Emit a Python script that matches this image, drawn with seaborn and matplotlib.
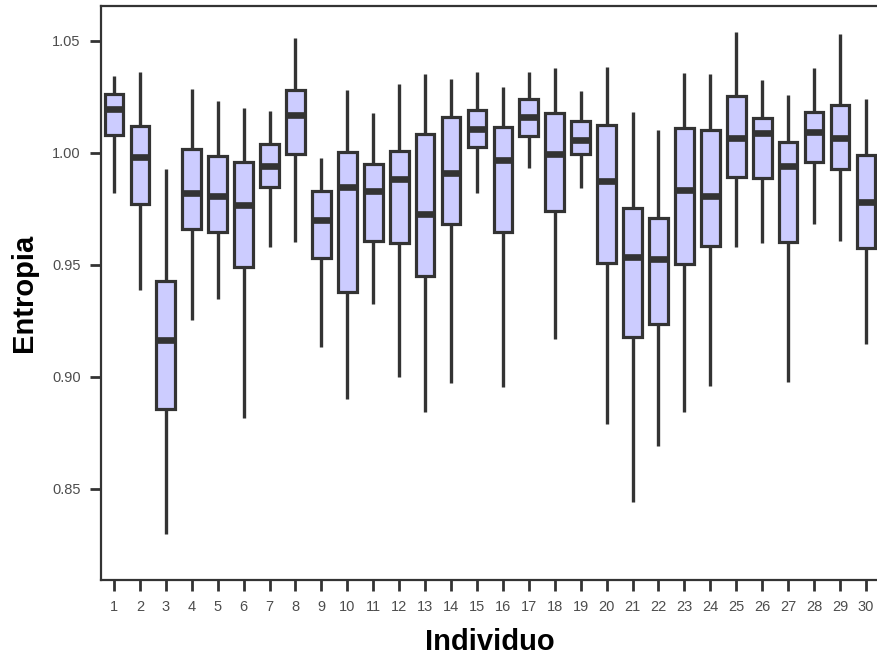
import numpy as np
import pandas as pd
import matplotlib
matplotlib.use("Agg")
import matplotlib.pyplot as plt
import seaborn as sns

individuos = [str(i) for i in range(1, 31)]
whisker_low = [0.9821, 0.9387, 0.8298, 0.9253, 0.9347, 0.8814, 0.9580, 0.9600, 0.9131, 0.8899,
               0.9325, 0.8996, 0.8842, 0.8973, 0.9821, 0.8953, 0.9930, 0.9167, 0.9841, 0.8789,
               0.8442, 0.8691, 0.8841, 0.8958, 0.9580, 0.9596, 0.8975, 0.9682, 0.9606, 0.9146]
q1 = [1.0079, 0.9771, 0.8854, 0.9661, 0.9645, 0.9487, 0.9848, 0.9994, 0.9531, 0.9377,
      0.9606, 0.9596, 0.9451, 0.9682, 1.0027, 0.9647, 1.0076, 0.9741, 0.9994, 0.9509,
      0.9176, 0.9235, 0.9503, 0.9585, 0.9890, 0.9888, 0.9600, 0.9960, 0.9927, 0.9573]
median = [1.0195, 0.9979, 0.9161, 0.9821, 0.9804, 0.9767, 0.9942, 1.0168, 0.9700, 0.9846,
          0.9829, 0.9883, 0.9726, 0.9908, 1.0106, 0.9967, 1.0158, 0.9994, 1.0057, 0.9871,
          0.9536, 0.9524, 0.9833, 0.9804, 1.0067, 1.0089, 0.9942, 1.0094, 1.0067, 0.9781]
q3 = [1.0262, 1.0119, 0.9427, 1.0017, 0.9987, 0.9957, 1.0039, 1.0280, 0.9830, 1.0002,
      0.9948, 1.0008, 1.0083, 1.0161, 1.0188, 1.0116, 1.0240, 1.0176, 1.0143, 1.0121,
      0.9754, 0.9710, 1.0109, 1.0101, 1.0253, 1.0154, 1.0049, 1.0180, 1.0213, 0.9990]
whisker_high = [1.0342, 1.0359, 0.9926, 1.0283, 1.0231, 1.0201, 1.0186, 1.0511, 0.9975, 1.0280,
                1.0176, 1.0307, 1.0351, 1.0329, 1.0362, 1.0292, 1.0362, 1.0377, 1.0275, 1.0384,
                1.0180, 1.0101, 1.0357, 1.0351, 1.0538, 1.0325, 1.0258, 1.0379, 1.0530, 1.0240]

rows = []
for i, ind in enumerate(individuos):
    for v in (whisker_low[i], q1[i], median[i], q3[i], whisker_high[i]):
        rows.append({"Individuo": ind, "Entropia": v})
df = pd.DataFrame(rows)

sns.set_style("white")
plt.rcParams['font.family'] = ['Liberation Sans', 'DejaVu Sans']

fig = plt.figure(figsize=(8.78, 6.56), dpi=100)
ax = fig.add_axes([0.115, 0.116, 0.886, 0.875])

dark = "#333333"
sns.boxplot(data=df, x="Individuo", y="Entropia", order=individuos, ax=ax,
            whis=np.inf, width=0.72, color="#CCCCFF", saturation=1,
            linewidth=2.3, linecolor=dark,
            boxprops=dict(facecolor="#CCCCFF", edgecolor=dark, linewidth=2.3),
            medianprops=dict(color=dark, linewidth=4.8),
            whiskerprops=dict(color=dark, linewidth=2.4),
            capprops=dict(linewidth=0), capwidths=0, showfliers=False)

ax.set_ylim(0.8092, 1.0655)
ax.set_xlim(-0.5, 29.5)
ax.set_yticks([0.85, 0.90, 0.95, 1.00, 1.05])
ax.set_yticklabels(["0.85", "0.90", "0.95", "1.00", "1.05"])

for side in ["left", "bottom", "top"]:
    ax.spines[side].set_visible(True)
    ax.spines[side].set_color(dark)
    ax.spines[side].set_linewidth(1.6)
ax.spines["right"].set_visible(False)

ax.tick_params(axis="both", direction="out", length=8, width=2, color=dark,
               labelsize=10.5, labelcolor="#4D4D4D", pad=6.5, left=True, bottom=True)
ax.set_xlabel("Individuo", fontsize=21, fontweight="bold", color="black", labelpad=10)
ax.set_ylabel("Entropia", fontsize=21, fontweight="bold", color="black", labelpad=10)

fig.savefig("out.png", dpi=100)
